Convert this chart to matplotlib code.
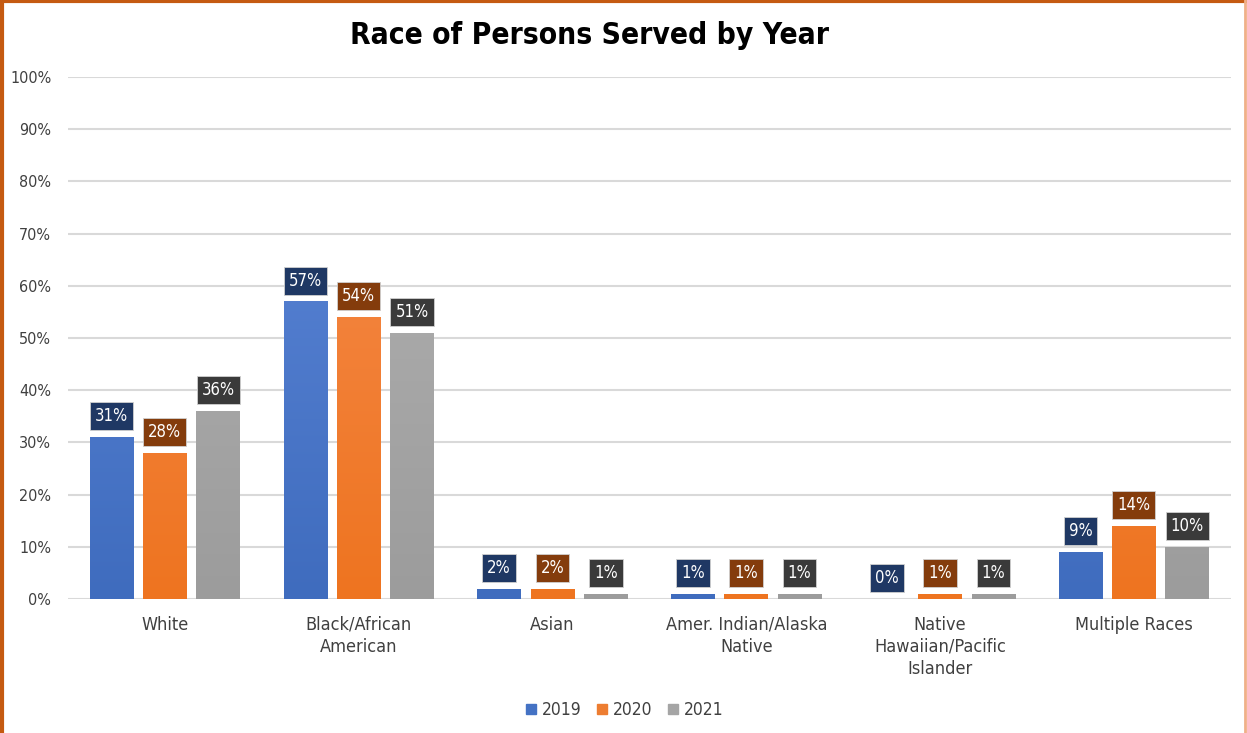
import numpy as np
import matplotlib
matplotlib.use('Agg')
import matplotlib.pyplot as plt
from matplotlib.colors import LinearSegmentedColormap
from matplotlib.lines import Line2D

plt.rcParams['font.family'] = 'DejaVu Sans'
plt.rcParams['font.stretch'] = 'condensed'

# Data
categories = ['White', 'Black/African\nAmerican', 'Asian', 'Amer. Indian/Alaska\nNative',
              'Native\nHawaiian/Pacific\nIslander', 'Multiple Races']
years = ['2019', '2020', '2021']
pct_2019 = [31, 57, 2, 1, 0, 9]
pct_2020 = [28, 54, 2, 1, 1, 14]
pct_2021 = [36, 51, 1, 1, 1, 10]
yticks = [0, 10, 20, 30, 40, 50, 60, 70, 80, 90, 100]

series = [pct_2019, pct_2020, pct_2021]
# (top colour, bottom colour, legend colour, label box colour)
styles = [('#5F89DA', '#3F6CBE', '#4472C4', '#1F3864'),
          ('#F78D50', '#EE7420', '#ED7D31', '#843C0C'),
          ('#B4B4B4', '#9C9C9C', '#A5A5A5', '#3A3A3A')]

text_col = '#404040'

fig = plt.figure(figsize=(12.47, 7.33), dpi=100)
ax = fig.add_axes([0.0545, 0.1828, 0.9325, 0.7122])

x = np.arange(len(categories))
width = 0.225
step = 0.275

ax.set_xlim(-0.5, len(categories) - 0.5)
ax.set_ylim(0, 100)

for i, (vals, (top, bot, leg, boxc)) in enumerate(zip(series, styles)):
    pos = x + (i - 1) * step
    bars = ax.bar(pos, vals, width, color='none', edgecolor='none', zorder=3)
    cmap = LinearSegmentedColormap.from_list('g%d' % i, [bot, top])
    grad = np.linspace(0, 1, 256).reshape(-1, 1)
    for b, v in zip(bars, vals):
        if v > 0:
            im = ax.imshow(grad, cmap=cmap, origin='lower', aspect='auto',
                           extent=[b.get_x(), b.get_x() + width, 0, 100], zorder=3)
            im.set_clip_path(b)
        ax.annotate('%d%%' % v, xy=(b.get_x() + width / 2, v), xytext=(0, 8.5),
                    textcoords='offset points', ha='center', va='bottom',
                    fontsize=12, color='white', zorder=5,
                    bbox=dict(boxstyle='square,pad=0.3', facecolor=boxc,
                              edgecolor='#D0D0D0', linewidth=0.6))

ax.set_xlim(-0.5, len(categories) - 0.5)
ax.set_ylim(0, 100)

ax.set_yticks(yticks)
ax.set_yticklabels(['%d%%' % t for t in yticks], fontsize=11.5, color=text_col)
ax.set_xticks(x)
ax.set_xticklabels(categories, fontsize=13, color=text_col, linespacing=1.3)
ax.tick_params(axis='both', length=0)
ax.tick_params(axis='y', pad=12)
ax.tick_params(axis='x', pad=12)
ax.grid(axis='y', color='#D9D9D9', linewidth=1.5, zorder=0)
ax.set_axisbelow(True)
for s in ax.spines.values():
    s.set_visible(False)

fig.text(0.473, 0.952, 'Race of Persons Served by Year', ha='center', va='center',
         fontsize=21.5, fontweight='bold', color='black')

handles = [Line2D([], [], marker='s', linestyle='none', markersize=6.5,
                  markerfacecolor=s[2], markeredgecolor=s[2]) for s in styles]
fig.legend(handles, years, loc='center', bbox_to_anchor=(0.501, 0.031), ncol=3,
           frameon=False, fontsize=12.5, handlelength=0.6, handletextpad=0.3,
           columnspacing=0.9, labelcolor=text_col)

# orange frame
fig.add_artist(Line2D([0.0015, 0.0015], [0, 1], transform=fig.transFigure,
                      color='#C55A11', linewidth=3))
fig.add_artist(Line2D([0, 1], [0.998, 0.998], transform=fig.transFigure,
                      color='#C55A11', linewidth=3))
fig.add_artist(Line2D([0.9985, 0.9985], [0, 1], transform=fig.transFigure,
                      color='#F0B088', linewidth=2))

fig.savefig('out.png', dpi=100)
